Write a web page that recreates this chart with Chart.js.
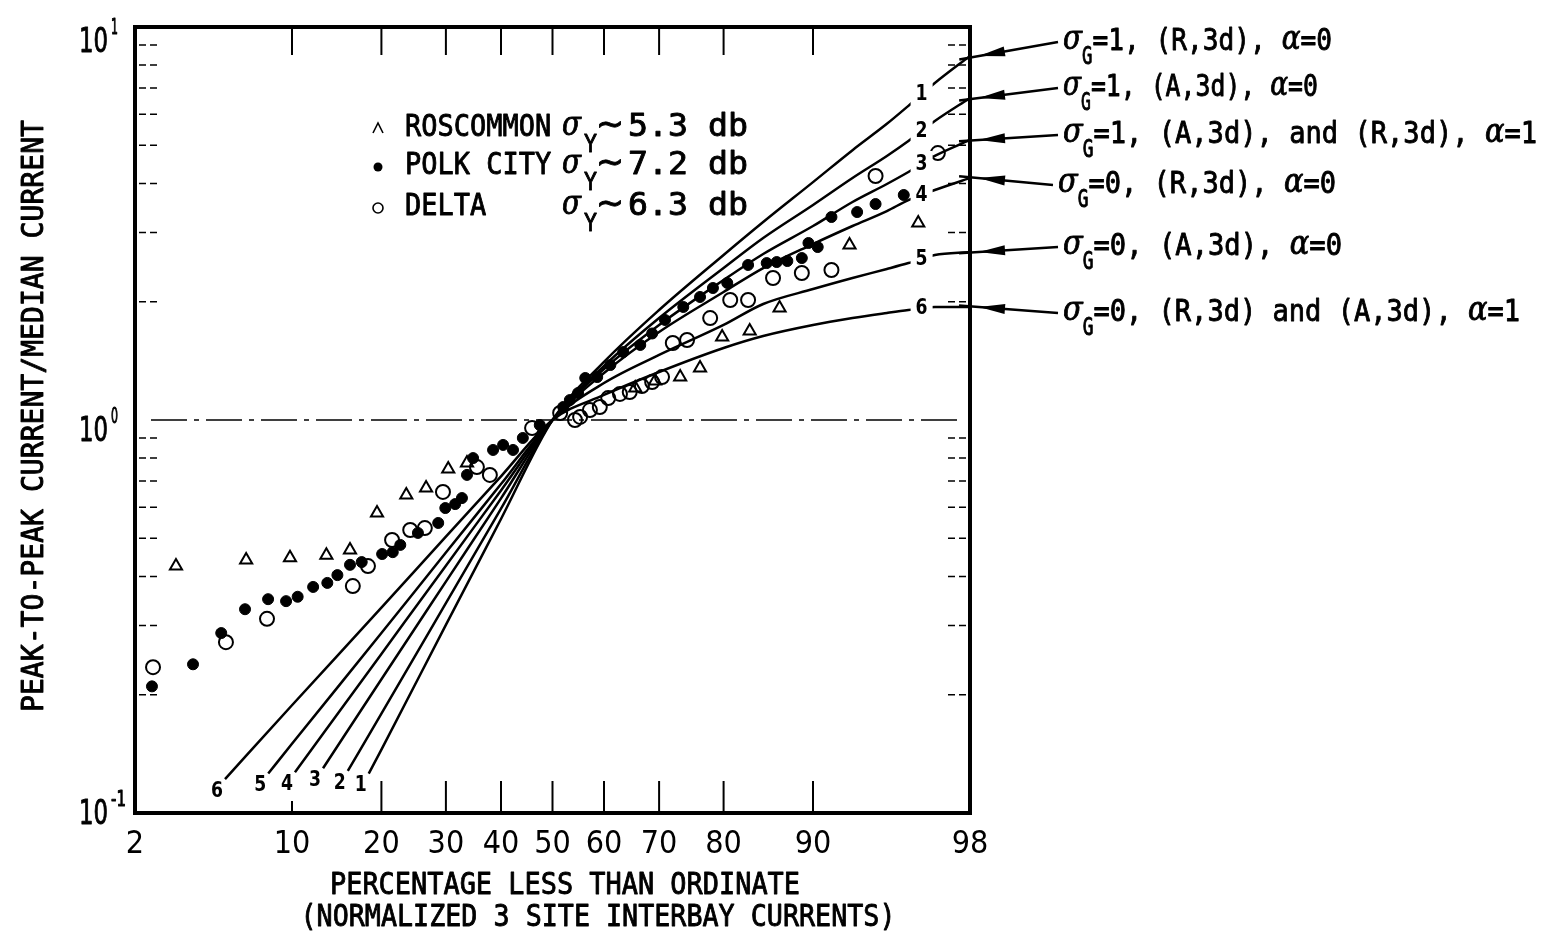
<!DOCTYPE html>
<html>
<head>
<meta charset="utf-8">
<script src="https://cdn.jsdelivr.net/npm/chart.js@4.4.0/dist/chart.umd.min.js"></script>
<style>
  html, body { margin: 0; padding: 0; background: #fff; }
</style>
</head>
<body>
<canvas id="myChart" width="1545" height="935"></canvas>
<script>
// ---- axis ticks (probability paper x, log y) ----
const xTickPct = [2, 10, 20, 30, 40, 50, 60, 70, 80, 90, 98];
const xTickLabels = ['2', '10', '20', '30', '40', '50', '60', '70', '80', '90', '98'];
const xMarkPct = [10, 20, 30, 40, 50, 60, 70, 80, 90];
const yTickVals = [10, 1, 0.1];
const yTickExp = ['1', '0', '-1'];
const yMinorVals = [0.2, 0.3, 0.4, 0.5, 0.6, 0.7, 0.8, 0.9, 2, 3, 4, 5, 6, 7, 8, 9];

// ---- theoretical curves 1..6 (percent, ratio) ----
const curve1P = [18.3, 20, 30, 40, 50, 60, 70, 80, 85, 90, 93, 95, 96, 97, 98];
const curve1V = [0.126, 0.145, 0.301, 0.560, 1.0, 1.405, 1.905, 2.63, 3.19, 4.03, 4.86, 5.67, 6.30, 7.20, 8.44];
const curve2P = [15.7, 20, 30, 40, 50, 60, 70, 80, 85, 90, 93, 95, 96, 97, 98];
const curve2V = [0.128, 0.179, 0.342, 0.595, 1.0, 1.372, 1.817, 2.436, 2.905, 3.525, 4.128, 4.697, 5.128, 5.766, 6.598];
const curve3P = [12.95, 20, 30, 40, 50, 60, 70, 80, 85, 90, 93, 95, 96, 97, 98];
const curve3V = [0.130, 0.219, 0.388, 0.632, 1.0, 1.348, 1.745, 2.271, 2.645, 3.116, 3.587, 3.986, 4.276, 4.697, 5.158];
const curve4P = [10.26, 20, 30, 40, 50, 60, 70, 80, 85, 90, 93, 95, 96, 97, 98];
const curve4V = [0.127, 0.254, 0.426, 0.662, 1.0, 1.317, 1.675, 2.117, 2.436, 2.804, 3.116, 3.402, 3.628, 3.848, 4.128];
const curve5P = [8.1, 10, 20, 30, 40, 50, 60, 70, 80, 85, 90, 93, 95, 96, 97, 98];
const curve5V = [0.126, 0.150, 0.287, 0.460, 0.687, 1.0, 1.242, 1.464, 1.745, 1.973, 2.154, 2.298, 2.423, 2.508, 2.630, 2.676];
const curve6P = [5.36, 10, 20, 30, 40, 50, 60, 70, 80, 85, 90, 93, 95, 96, 97, 98];
const curve6V = [0.122, 0.188, 0.333, 0.505, 0.719, 1.0, 1.158, 1.325, 1.525, 1.636, 1.745, 1.817, 1.872, 1.905, 1.939, 1.939];

// ---- measured sites ----
const roscP = [3.2, 6.59, 9.83, 13.3, 15.96, 19.4, 23.6, 26.7, 30.4, 33.7, 65.8, 69.3, 73.5, 76.6, 79.8, 83.4, 86.8, 92.8, 96.4];
const roscV = [0.425, 0.440, 0.446, 0.453, 0.467, 0.580, 0.644, 0.671, 0.750, 0.777, 1.206, 1.257, 1.286, 1.356, 1.626, 1.684, 1.928, 2.788, 3.171];
const polkP = [2.44, 3.85, 5.16, 6.52, 8.09, 9.5, 10.5, 11.95, 13.4, 14.5, 15.96, 17.4, 20.1, 21.6, 22.7, 25.4, 28.7, 29.9, 31.6, 32.8,
  33.7, 34.8, 38.5, 40.4, 42.3, 44.2, 47.5, 52.1, 53.4, 55.0, 56.4, 58.7, 61.2, 63.6, 66.7, 68.8, 71.0, 74.0, 76.6, 78.5, 80.5, 83.2,
  85.4, 86.5, 87.6, 89.0, 89.6, 90.4, 91.5, 93.3, 94.4, 95.8];
const polkV = [0.210, 0.239, 0.287, 0.330, 0.350, 0.346, 0.355, 0.376, 0.385, 0.403, 0.428, 0.435, 0.456, 0.461, 0.481, 0.516, 0.547, 0.597, 0.611, 0.633,
  0.725, 0.800, 0.839, 0.864, 0.839, 0.900, 0.971, 1.079, 1.124, 1.171, 1.279, 1.286, 1.380, 1.489, 1.552, 1.660, 1.797, 1.939, 2.056, 2.167, 2.232, 2.480,
  2.508, 2.523, 2.538, 2.583, 2.821, 2.755, 3.285, 3.382, 3.545, 3.737];
const deltaP = [2.47, 5.41, 8.01, 16.3, 18.2, 21.5, 24.2, 26.5, 29.5, 35.5, 37.9, 46.0, 51.5, 54.4, 55.4, 57.3, 59.2, 60.8, 63.0, 64.8,
  67.0, 68.8, 70.5, 72.3, 74.6, 78.1, 80.9, 83.2, 86.1, 89.0, 91.5, 94.4, 97.1];
const deltaV = [0.235, 0.272, 0.312, 0.378, 0.425, 0.495, 0.525, 0.531, 0.656, 0.759, 0.725, 0.954, 1.042, 1.0, 1.018, 1.060, 1.079, 1.137, 1.165, 1.178,
  1.220, 1.249, 1.286, 1.570, 1.598, 1.817, 2.020, 2.020, 2.298, 2.366, 2.408, 4.177, 4.778];

// ---- text ----
const legendNames = ['ROSCOMMON', 'POLK CITY', 'DELTA'];
const legendSigma = ['5.3 db', '7.2 db', '6.3 db'];
const noteGroup = ['=1, (R,3d), ', '=1, (A,3d), ', '=1, (A,3d), and (R,3d), ', '=0, (R,3d), ', '=0, (A,3d), ', '=0, (R,3d) and (A,3d), '];
const noteAlpha = ['=0', '=0', '=1', '=0', '=0', '=1'];
const xTitle = ['PERCENTAGE LESS THAN ORDINATE', '(NORMALIZED 3 SITE INTERBAY CURRENTS)'];
const yTitle = 'PEAK-TO-PEAK CURRENT/MEDIAN CURRENT';

// inverse normal cdf (Acklam) -> probability paper
function probit(pct) {
  const p = pct / 100;
  const a = [-39.69683028665376, 220.9460984245205, -275.9285104469687, 138.3577518672690, -30.66479806614716, 2.506628277459239];
  const b = [-54.47609879822406, 161.5858368580409, -155.6989798598866, 66.80131188771972, -13.28068155288572];
  const c = [-0.007784894002430293, -0.3223964580411365, -2.400758277161838, -2.549732539343734, 4.374664141464968, 2.938163982698783];
  const d = [0.007784695709041462, 0.3224671290700398, 2.445134137142996, 3.754408661907416];
  const lo = 0.02425;
  if (p < lo || p > 1 - lo) {
    const q = Math.sqrt(-2 * Math.log(p < lo ? p : 1 - p));
    const v = (((((c[0]*q + c[1])*q + c[2])*q + c[3])*q + c[4])*q + c[5]) / ((((d[0]*q + d[1])*q + d[2])*q + d[3])*q + 1);
    return p < lo ? v : -v;
  }
  const q = p - 0.5, r = q * q;
  return (((((a[0]*r + a[1])*r + a[2])*r + a[3])*r + a[4])*r + a[5])*q / (((((b[0]*r + b[1])*r + b[2])*r + b[3])*r + b[4])*r + 1);
}

function pts(P, V) { return P.map((p, i) => ({ x: probit(p), y: V[i] })); }

// lettering-guide look: monospaced sans, squeezed a little
const MONO = '"DejaVu Sans Mono", "Liberation Mono", monospace';
const COND = '"DejaVu Sans Condensed", "DejaVu Sans", sans-serif';
const GREEK = '"DejaVu Serif", serif';

function fontOf(p) {
  const fam = p.greek ? GREEK : (p.fam || MONO);
  return (p.greek ? 'italic ' : '') + (p.bold ? 'bold ' : '') + p.size + 'px ' + fam;
}

// text run; parts {t, size, dy, greek, bold, fam, sx}; squeezed/stretched to width w when given
function drawRun(ctx, x, y, parts, w, align) {
  ctx.save();
  let nat = 0;
  parts.forEach(p => {
    ctx.font = fontOf(p);
    nat += ctx.measureText(p.t).width * (p.sx || 1);
  });
  ctx.restore();
  const k = w ? w / nat : 1;
  let cx = align === 'center' ? x - nat * k / 2 : align === 'right' ? x - nat * k : x;
  parts.forEach(p => {
    ctx.save();
    ctx.font = fontOf(p);
    ctx.textBaseline = 'middle';
    ctx.textAlign = 'left';
    ctx.fillStyle = '#000';
    ctx.strokeStyle = '#000';
    ctx.lineJoin = 'round';
    ctx.lineWidth = p.bold ? 0 : 0.9;
    const s = k * (p.sx || 1);
    const tw = ctx.measureText(p.t).width;
    ctx.translate(cx, y + (p.dy || 0));
    ctx.scale(s, 1);
    ctx.fillText(p.t, 0, 0);
    if (!p.bold) ctx.strokeText(p.t, 0, 0);
    cx += tw * s;
    ctx.restore();
  });
}

const curves = [[curve1P, curve1V], [curve2P, curve2V], [curve3P, curve3V], [curve4P, curve4V], [curve5P, curve5V], [curve6P, curve6V]];

const datasets = curves.map(([P, V], i) => ({
  label: 'curve ' + (i + 1),
  data: pts(P, V),
  showLine: true,
  borderColor: '#000',
  borderWidth: 2.5,
  pointRadius: 0,
  cubicInterpolationMode: 'monotone',
  fill: false
}));
datasets.push(
  { label: 'ROSCOMMON', data: pts(roscP, roscV), pointStyle: 'triangle', pointRadius: 7, borderWidth: 2, borderColor: '#000', backgroundColor: 'rgba(0,0,0,0)' },
  { label: 'POLK CITY', data: pts(polkP, polkV), pointStyle: 'circle', pointRadius: 5.5, borderWidth: 1, borderColor: '#000', backgroundColor: '#000' },
  { label: 'DELTA', data: pts(deltaP, deltaV), pointStyle: 'circle', pointRadius: 7, borderWidth: 2, borderColor: '#000', backgroundColor: 'rgba(0,0,0,0)' }
);

const decor = {
  id: 'decor',
  beforeDatasetsDraw(chart) {
    const { ctx, chartArea: a, scales: { x, y } } = chart;
    ctx.save();
    ctx.strokeStyle = '#000';
    // dash-dot line at unity
    ctx.lineWidth = 1.5;
    ctx.setLineDash([36, 7, 5, 7]);
    const y1 = y.getPixelForValue(1);
    ctx.beginPath(); ctx.moveTo(a.left + 16, y1); ctx.lineTo(a.right - 8, y1); ctx.stroke();
    ctx.setLineDash([]);
    // inner ticks top / bottom
    ctx.lineWidth = 2;
    xMarkPct.forEach(p => {
      const px = x.getPixelForValue(probit(p));
      ctx.beginPath(); ctx.moveTo(px, a.top); ctx.lineTo(px, a.top + 28); ctx.stroke();
      ctx.beginPath(); ctx.moveTo(px, a.bottom); ctx.lineTo(px, a.bottom - (p >= 20 ? 32 : 12)); ctx.stroke();
    });
    // minor log ticks on both sides
    ctx.lineWidth = 1.5;
    ctx.setLineDash([7, 4]);
    yMinorVals.forEach(v => {
      const py = y.getPixelForValue(v);
      ctx.beginPath(); ctx.moveTo(a.left + 4, py); ctx.lineTo(a.left + 24, py); ctx.stroke();
      ctx.beginPath(); ctx.moveTo(a.right - 4, py); ctx.lineTo(a.right - 24, py); ctx.stroke();
    });
    ctx.restore();
  },
  afterDatasetsDraw(chart) {
    const { ctx, chartArea: a, scales: { x, y } } = chart;
    ctx.save();
    // frame
    ctx.strokeStyle = '#000';
    ctx.lineWidth = 4;
    ctx.strokeRect(a.left, a.top, a.right - a.left, a.bottom - a.top);

    // y tick labels 10^n
    const yOff = [16, 12, 2];
    yTickVals.forEach((v, i) => {
      const py = y.getPixelForValue(v) + yOff[i];
      drawRun(ctx, a.left - 27, py, [{ t: '10', size: 34, fam: COND }], 29, 'right');
      drawRun(ctx, a.left - 24, py - 15, [{ t: yTickExp[i], size: 22, fam: COND }], i === 2 ? 15 : 7, 'left');
    });

    // axis titles
    drawRun(ctx, 565, 886, [{ t: xTitle[0], size: 31 }], 470, 'center');
    drawRun(ctx, 598, 918, [{ t: xTitle[1], size: 31 }], 595, 'center');
    ctx.save();
    ctx.translate(35, 416);
    ctx.rotate(-Math.PI / 2);
    drawRun(ctx, 0, 0, [{ t: yTitle, size: 30 }], 592, 'center');
    ctx.restore();

    // curve numbers
    curves.forEach((c, i) => {
      const pp = chart.getDatasetMeta(i).data;
      const n = pp.length;
      const ux = (pp[n - 3].x + pp[n - 2].x) / 2, uy = (pp[n - 3].y + pp[n - 2].y) / 2;
      ctx.fillStyle = '#fff';
      ctx.fillRect(ux - 11, uy - 13, 22, 26);
      drawRun(ctx, ux, uy, [{ t: String(i + 1), size: 22, bold: true, fam: COND }], 12, 'center');
      drawRun(ctx, pp[0].x - 8, pp[0].y + 12, [{ t: String(i + 1), size: 22, bold: true, fam: COND }], 12, 'center');
    });

    // in-plot legend
    const rowY = [128, 166, 207];
    rowY.forEach((ry, i) => {
      ctx.save();
      ctx.strokeStyle = '#000';
      ctx.fillStyle = '#000';
      ctx.lineWidth = 1.6;
      ctx.beginPath();
      if (i === 0) { ctx.moveTo(373, ry + 5); ctx.lineTo(378, ry - 5); ctx.lineTo(383, ry + 5); ctx.stroke(); }
      else if (i === 1) { ctx.arc(378, ry + 1, 4.5, 0, Math.PI * 2); ctx.fill(); }
      else { ctx.arc(378, ry + 1, 5, 0, Math.PI * 2); ctx.stroke(); }
      ctx.restore();
      drawRun(ctx, 405, ry, [{ t: legendNames[i], size: 31, sx: 0.87 }]);
      drawRun(ctx, 562, ry - 2, [{ t: 'σ', size: 33, greek: true }], 19);
      drawRun(ctx, 584, ry + 18, [{ t: 'Y', size: 24 }], 13);
      drawRun(ctx, 596, ry - 1, [{ t: '∼', size: 36, fam: COND }], 28);
      drawRun(ctx, 628, ry, [{ t: legendSigma[i], size: 32 }], 120);
    });

    // right-hand notes with arrows to curve ends
    const noteY = [42, 88, 135, 185, 247, 313];
    const noteX = [1063, 1063, 1063, 1058, 1063, 1063];
    const noteR = [1332, 1318, 1537, 1336, 1342, 1520];
    curves.forEach((c, i) => {
      const pp = chart.getDatasetMeta(i).data;
      const tipY = pp[pp.length - 1].y;
      const tipX = a.right + 9;
      const tailX = noteX[i] - 5, tailY = noteY[i];
      const ang = Math.atan2(tipY - tailY, tipX - tailX);
      ctx.save();
      ctx.strokeStyle = '#000';
      ctx.fillStyle = '#000';
      ctx.lineWidth = 2.5;
      ctx.beginPath(); ctx.moveTo(tailX, tailY); ctx.lineTo(tipX + 20 * Math.cos(ang), tipY + 20 * Math.sin(ang)); ctx.stroke();
      ctx.translate(tipX, tipY);
      ctx.rotate(ang);
      ctx.beginPath(); ctx.moveTo(0, 0); ctx.lineTo(-26, -5); ctx.lineTo(-26, 5); ctx.closePath(); ctx.fill();
      ctx.restore();
      drawRun(ctx, noteX[i], noteY[i], [
        { t: 'σ', size: 33, greek: true, dy: -2 },
        { t: 'G', size: 24, dy: 16, sx: 0.85 },
        { t: noteGroup[i], size: 31 },
        { t: 'α', size: 33, greek: true, dy: -2 },
        { t: noteAlpha[i], size: 31 }
      ], noteR[i] - noteX[i]);
    });
    ctx.restore();
  }
};

new Chart(document.getElementById('myChart'), {
  type: 'scatter',
  data: { datasets },
  options: {
    responsive: false,
    animation: false,
    devicePixelRatio: 1,
    layout: { padding: { top: 27, right: 575, left: 0, bottom: 0 } },
    plugins: { legend: { display: false }, tooltip: { enabled: false } },
    scales: {
      x: {
        type: 'linear',
        min: probit(2),
        max: probit(98),
        grid: { display: false, drawTicks: false },
        border: { display: false },
        afterBuildTicks: s => { s.ticks = xTickPct.map(p => ({ value: probit(p) })); },
        afterFit: s => { s.height = 122; },
        ticks: {
          autoSkip: false, maxRotation: 0, padding: 12, color: '#000',
          font: { family: COND, size: 32 },
          callback: (v, i) => xTickLabels[i]
        }
      },
      y: {
        type: 'logarithmic',
        min: 0.1,
        max: 10,
        grid: { display: false, drawTicks: false },
        border: { display: false },
        ticks: { display: false },
        afterFit: s => { s.width = 135; }
      }
    }
  },
  plugins: [decor]
});
</script>
</body>
</html>
